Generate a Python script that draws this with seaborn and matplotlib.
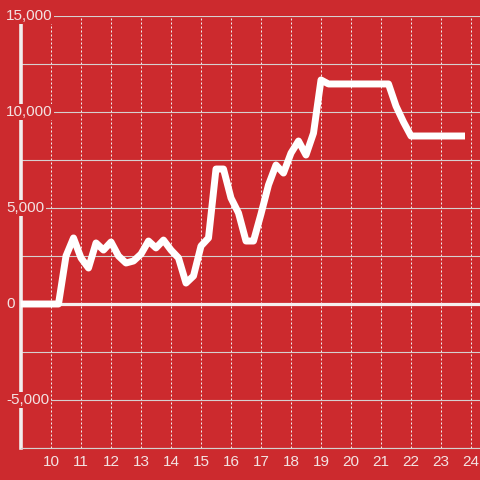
import matplotlib
matplotlib.use('Agg')
import matplotlib.pyplot as plt
import matplotlib.transforms as mtransforms
import seaborn as sns
import pandas as pd
import numpy as np

# hours (quarter-hour steps) and values
hours = [9.0, 9.25, 9.5, 9.75, 10.0, 10.25, 10.5, 10.75, 11.0, 11.25, 11.5, 11.75,
         12.0, 12.25, 12.5, 12.75, 13.0, 13.25, 13.5, 13.75, 14.0, 14.25, 14.5, 14.75,
         15.0, 15.25, 15.5, 15.75, 16.0, 16.25, 16.5, 16.75, 17.0, 17.25, 17.5, 17.75,
         18.0, 18.25, 18.5, 18.75, 19.0, 19.25, 19.5, 19.75, 20.0, 20.25, 20.5, 20.75,
         21.0, 21.25, 21.5, 21.75, 22.0, 22.25, 22.5, 22.75, 23.0, 23.25, 23.5, 23.8]
values = [0, 0, 0, 0, 0, 0, 2500, 3440, 2400, 1875, 3180, 2810,
          3230, 2500, 2135, 2240, 2600, 3280, 2920, 3330, 2810, 2400, 1090, 1460,
          3020, 3440, 7030, 7030, 5520, 4740, 3280, 3280, 4690, 6200, 7240, 6820,
          7860, 8490, 7760, 8900, 11670, 11460, 11460, 11460, 11460, 11460, 11460, 11460,
          11460, 11460, 10310, 9480, 8750, 8750, 8750, 8750, 8750, 8750, 8750, 8750]

x_ticks = list(range(10, 25))
y_grid = [-7500, -5000, -2500, 0, 2500, 5000, 7500, 10000, 12500, 15000]
y_labels = [-5000, 0, 5000, 10000, 15000]

bg = '#cc2a2e'
txt = '#f3e3e3'

plt.rcParams['font.family'] = ['Liberation Sans', 'DejaVu Sans']

df = pd.DataFrame({'hour': hours, 'value': values})

fig = plt.figure(figsize=(4.8, 4.8), dpi=100, facecolor=bg)
ax = fig.add_axes([21 / 480, 32 / 480, 459 / 480, 432 / 480])
ax.set_facecolor(bg)

sns.lineplot(data=df, x='hour', y='value', ax=ax, color='white', linewidth=5,
             zorder=4, solid_capstyle='butt')

ax.set_xlim(9.0, 24.3)
ax.set_ylim(-7500, 15000)

ax.set_xticks(x_ticks)
ax.set_xticklabels([str(h) for h in x_ticks])
ax.set_yticks(y_grid)
ax.set_yticklabels([])
ax.tick_params(axis='both', length=0)
ax.tick_params(axis='x', colors=txt, labelsize=11, pad=5)

ax.grid(axis='y', color='#d6d0d0', linewidth=0.8, linestyle='-')
ax.grid(axis='x', color='#f0f0f0', linewidth=0.72, linestyle=(0, (2, 2)))
ax.set_axisbelow(True)
ax.axhline(0, color='#f5f0f0', linewidth=2.3, zorder=3)

for side in ['top', 'right']:
    ax.spines[side].set_visible(False)
ax.spines['left'].set_color('#f2eeee')
ax.spines['left'].set_linewidth(2.6)
ax.spines['bottom'].set_color('#d6d0d0')
ax.spines['bottom'].set_linewidth(0.8)

ax.set_xlabel('')
ax.set_ylabel('')

trans = mtransforms.blended_transform_factory(ax.transAxes, ax.transData)
for v in y_labels:
    ax.text(-15 / 459, v, f'{v:,}', transform=trans, ha='left', va='center',
            color=txt, fontsize=11, zorder=6, clip_on=False,
            bbox=dict(facecolor=bg, edgecolor='none', pad=1))

fig.savefig('out.png', dpi=100, facecolor=bg)
